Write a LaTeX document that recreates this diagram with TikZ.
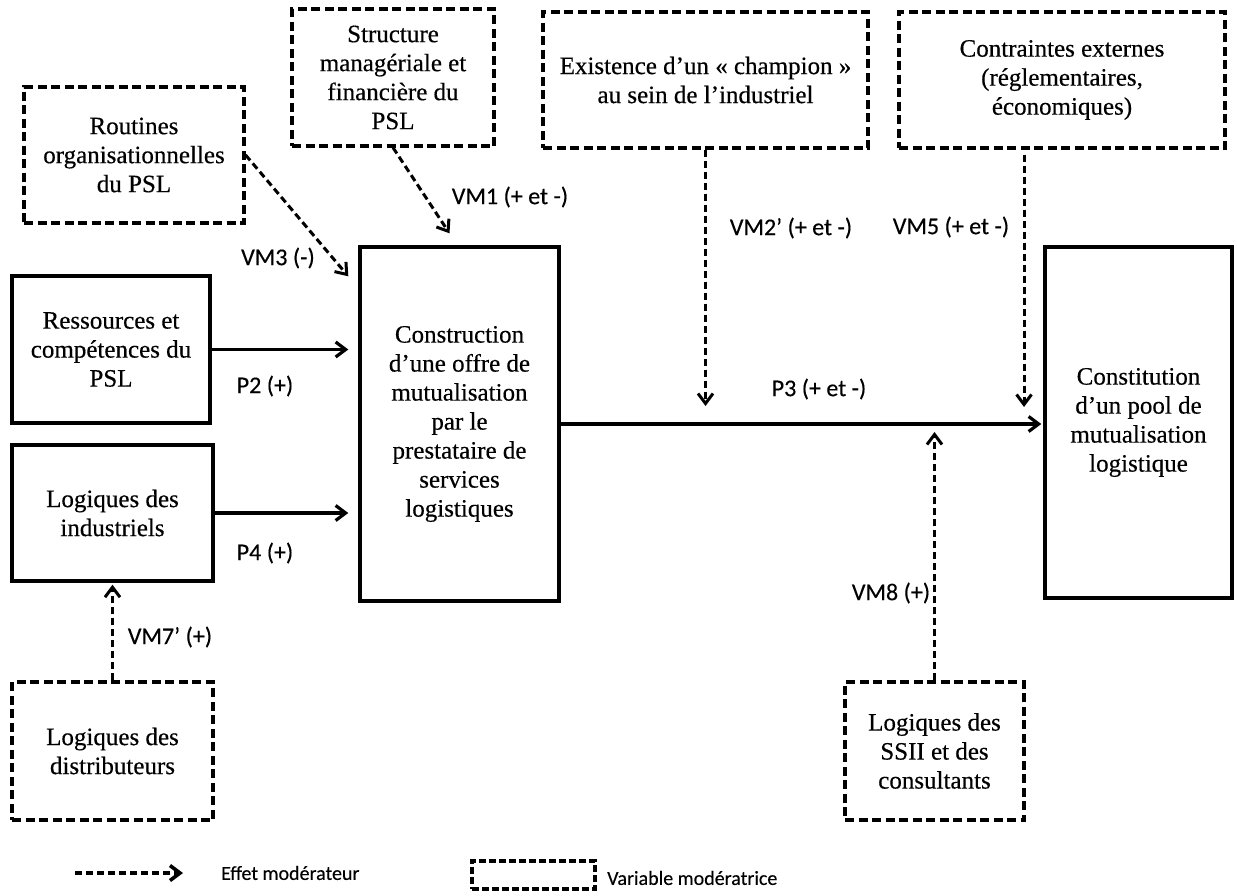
\documentclass[tikz,border=0pt]{standalone}
\usepackage{fontspec}
\setmainfont{Liberation Serif}[FakeBold=0.4]
\newfontfamily\labelfont{Carlito}[FakeBold=0.3]
\usetikzlibrary{arrows.meta, positioning}

\begin{document}
\begin{tikzpicture}[
  x=1pt, y=-1pt,
  varbox/.style={rectangle, draw=black, line width=3.2pt,
                 dash pattern=on 9pt off 4.5pt, align=center, inner sep=0pt,
                 font=\fontsize{25}{29}\selectfont},
  mainbox/.style={rectangle, draw=black, line width=3.4pt, align=center,
                  inner sep=0pt, font=\fontsize{25}{29}\selectfont},
  arrow/.style={-{Straight Barb[length=10pt, width=15pt]}, line width=3.2pt},
  modarrow/.style={arrow, line width=3pt, dash pattern=on 7pt off 4pt},
  lbl/.style={font=\labelfont\fontsize{24}{28}\selectfont, inner sep=0pt},
  legendlbl/.style={font=\labelfont\fontsize{20}{24}\selectfont, inner sep=0pt},
]
  \useasboundingbox (0,0) rectangle (1237,895);

  \node[varbox, minimum width=220pt, minimum height=136pt] (routines)    at (134,155)   {Routines\\organisationnelles\\du PSL};
  \node[varbox, minimum width=202pt, minimum height=137pt] (structure)   at (393,77.5)  {Structure\\managériale et\\financière du\\PSL};
  \node[varbox, minimum width=325pt, minimum height=136pt] (existence)   at (705.5,80)  {Existence d’un «~champion~»\\au sein de l’industriel};
  \node[varbox, minimum width=326pt, minimum height=136pt] (contraintes) at (1062,80)   {Contraintes externes\\(réglementaires,\\économiques)};
  \node[mainbox, minimum width=198pt, minimum height=147pt] (ressources)  at (111,349.5) {Ressources et\\compétences du\\PSL};
  \node[mainbox, minimum width=201pt, minimum height=136pt] (industriels) at (112.5,513) {Logiques des\\industriels};
  \node[mainbox, minimum width=199pt, minimum height=354pt] (construction) at (459.5,424) {Construction\\d’une offre de\\mutualisation\\par le\\prestataire de\\services\\logistiques};
  \node[mainbox, minimum width=187pt, minimum height=351pt] (constitution) at (1138.5,422.5) {Constitution\\d’un pool de\\mutualisation\\logistique};
  \node[varbox, minimum width=201pt, minimum height=138pt] (distributeurs) at (112.5,751) {Logiques des\\distributeurs};
  \node[varbox, minimum width=179pt, minimum height=138pt] (ssii)        at (934.5,751) {Logiques des\\SSII et des\\consultants};

  \coordinate (vm3end) at ([shift={(-10pt,-31pt)}]construction.north west);
  \coordinate (vm1end) at ([shift={(-10pt,12pt)}]construction.north);
  \coordinate (vm5top) at ([shift={(-38pt,-5pt)}]contraintes.south);

  \draw[arrow, shorten >=10pt] (ressources.east)  -- (ressources.east -| construction.west);
  \draw[arrow, shorten >=10pt] (industriels.east) -- (industriels.east -| construction.west);
  \draw[arrow, shorten >=2pt]  (construction.east) -- (construction.east -| constitution.west);

  \draw[modarrow] (routines.east) -- (vm3end);
  \draw[modarrow] (structure.south) -- (vm1end);
  \draw[modarrow, shorten >=18pt] (existence.south) -- (existence.south |- construction.east);
  \draw[modarrow, shorten >=17pt] (vm5top) -- (vm5top |- construction.east);
  \draw[modarrow, shorten >=8pt]  (ssii.north) -- (ssii.north |- construction.east);
  \draw[modarrow, shorten >=2pt]  (distributeurs.north) -- (industriels.south);

  \node[lbl] (vm3) at (278,258) {VM3 (-)};
  \node[lbl] (vm1) at (510,197) {VM1 (+ et -)};
  \node[lbl] (vm2) at (791,228) {VM2’ (+ et -)};
  \node[lbl] (vm5) at (951,227) {VM5 (+ et -)};
  \node[lbl] (p2)  at (265,386) {P2 (+)};
  \node[lbl] (p4)  at (265,553) {P4 (+)};
  \node[lbl] (p3)  at (819,389) {P3 (+ et -)};
  \node[lbl] (vm8) at (891,593) {VM8 (+)};
  \node[lbl] (vm7) at (170,637) {VM7’ (+)};

  \coordinate (legstart) at (75,873);
  \coordinate (legtip)   at (183,873);
  \draw[modarrow, line width=3.6pt] (legstart) -- (legtip);
  \node[legendlbl, anchor=west] (effet) at (221,873) {Effet modérateur};
  \node[varbox, dash pattern=on 7pt off 3pt, minimum width=123pt, minimum height=28pt] (legbox) at (533.5,875) {};
  \node[legendlbl, anchor=west] (variable) at (607,878) {Variable modératrice};
\end{tikzpicture}
\end{document}
